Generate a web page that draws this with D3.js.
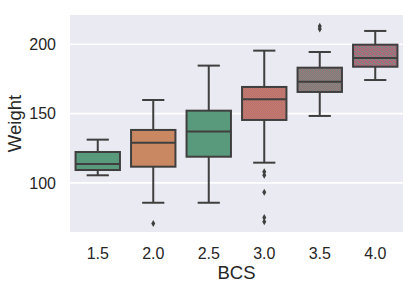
<!DOCTYPE html>
<html>
<head>
<meta charset="utf-8">
<script src="https://cdn.jsdelivr.net/npm/d3@7"></script>
<style>
  body { margin: 0; background: #fff; }
  text { font-family: "Liberation Sans", Arial, sans-serif; fill: #262626; }
</style>
</head>
<body>
<svg id="chart" width="420" height="290"></svg>
<script>
var categories = ["1.5", "2.0", "2.5", "3.0", "3.5", "4.0"];
var whiskerLow = [105.5, 85.7, 85.7, 114.6, 148.3, 174.2];
var q1 = [109.3, 111.7, 118.9, 145.4, 165.6, 183.8];
var medians = [113.6, 129, 137, 160.3, 173, 190.1];
var q3 = [122.3, 138.2, 152.1, 169.2, 183.1, 199.7];
var whiskerHigh = [131.2, 159.8, 184.6, 195.4, 194.4, 209.6];
var outliers = [[], [70.8], [], [108, 105.5, 93.2, 75, 72], [213, 211], []];
var yTicks = [100, 150, 200];

// fill for each box: solid colour or a dithered mix of two
var fills = [
  ["#5a9a7c"], ["#c98862"], ["#5a9a7c"],
  ["#c98862", "#b3637a"], ["#5a9a7c", "#b8607c"], ["#b8607c", "#5f9a7e"]
];

var svg = d3.select("#chart");
var m = {left: 70, right: 17, top: 15, bottom: 58};
var w = 420 - m.left - m.right, h = 290 - m.top - m.bottom;

var x = d3.scaleBand().domain(categories).range([m.left, m.left + w]);
var y = d3.scaleLinear().domain([64.6, 221.1]).range([m.top + h, m.top]);

// dither patterns
var defs = svg.append("defs");
fills.forEach(function(f, i) {
  if (f.length < 2) return;
  var p = defs.append("pattern").attr("id", "dith" + i)
    .attr("patternUnits", "userSpaceOnUse").attr("width", 4).attr("height", 4);
  p.append("rect").attr("width", 4).attr("height", 4).attr("fill", f[0]);
  var cells = i == 5 ? [[0, 0], [2, 1], [1, 2], [3, 3], [2, 3]]
    : [[0, 0], [2, 0], [1, 1], [3, 1], [0, 2], [2, 2], [1, 3], [3, 3]];
  cells.forEach(function(c) {
    p.append("rect").attr("x", c[0]).attr("y", c[1]).attr("width", 1).attr("height", 1).attr("fill", f[1]);
  });
});

svg.append("rect").attr("x", m.left).attr("y", m.top).attr("width", w).attr("height", h).attr("fill", "#eaeaf2");

svg.append("g").selectAll("line").data(yTicks).enter().append("line")
  .attr("x1", m.left).attr("x2", m.left + w)
  .attr("y1", function(d) { return y(d); }).attr("y2", function(d) { return y(d); })
  .attr("stroke", "#fff").attr("stroke-width", 1.6);

// y axis labels
svg.append("g").selectAll("text").data(yTicks).enter().append("text")
  .attr("x", 56).attr("y", function(d) { return y(d) + 5.8; })
  .attr("text-anchor", "end").attr("font-size", 16).text(function(d) { return d; });

// x axis labels
svg.append("g").selectAll("text").data(categories).enter().append("text")
  .attr("x", function(d) { return x(d) + x.bandwidth() / 2; }).attr("y", 258.5)
  .attr("text-anchor", "middle").attr("font-size", 16).text(function(d) { return d; });

svg.append("text").attr("x", m.left + w / 2).attr("y", 278.5).attr("text-anchor", "middle")
  .attr("font-size", 18.5).text("BCS");
svg.append("text").attr("transform", "translate(21," + (m.top + h / 2) + ") rotate(-90)")
  .attr("text-anchor", "middle").attr("font-size", 18.5).text("Weight");

var stroke = "#3f3f3f", sw = 2;
var bw = x.bandwidth() * 0.8;
var boxes = svg.append("g").selectAll("g").data(categories).enter().append("g")
  .attr("transform", function(d) { return "translate(" + (x(d) + x.bandwidth() / 2) + ",0)"; });

boxes.append("line").attr("x1", 0).attr("x2", 0)
  .attr("y1", function(d, i) { return y(whiskerHigh[i]); })
  .attr("y2", function(d, i) { return y(q3[i]); })
  .attr("stroke", stroke).attr("stroke-width", sw);
boxes.append("line").attr("x1", 0).attr("x2", 0)
  .attr("y1", function(d, i) { return y(q1[i]); })
  .attr("y2", function(d, i) { return y(whiskerLow[i]); })
  .attr("stroke", stroke).attr("stroke-width", sw);
[whiskerHigh, whiskerLow].forEach(function(arr) {
  boxes.append("line").attr("x1", -bw / 4).attr("x2", bw / 4)
    .attr("y1", function(d, i) { return y(arr[i]); })
    .attr("y2", function(d, i) { return y(arr[i]); })
    .attr("stroke", stroke).attr("stroke-width", sw);
});
boxes.append("rect").attr("x", -bw / 2).attr("width", bw)
  .attr("y", function(d, i) { return y(q3[i]); })
  .attr("height", function(d, i) { return y(q1[i]) - y(q3[i]); })
  .attr("fill", function(d, i) { return fills[i].length > 1 ? "url(#dith" + i + ")" : fills[i][0]; })
  .attr("stroke", stroke).attr("stroke-width", sw);
boxes.append("line").attr("x1", -bw / 2).attr("x2", bw / 2)
  .attr("y1", function(d, i) { return y(medians[i]); })
  .attr("y2", function(d, i) { return y(medians[i]); })
  .attr("stroke", stroke).attr("stroke-width", sw);

boxes.each(function(d, i) {
  d3.select(this).selectAll("path.out").data(outliers[i]).enter().append("path")
    .attr("class", "out")
    .attr("d", function(v) { var c = y(v); return "M0," + (c - 3.5) + "L2," + c + "L0," + (c + 3.5) + "L-2," + c + "Z"; })
    .attr("fill", stroke);
});
</script>
</body>
</html>
